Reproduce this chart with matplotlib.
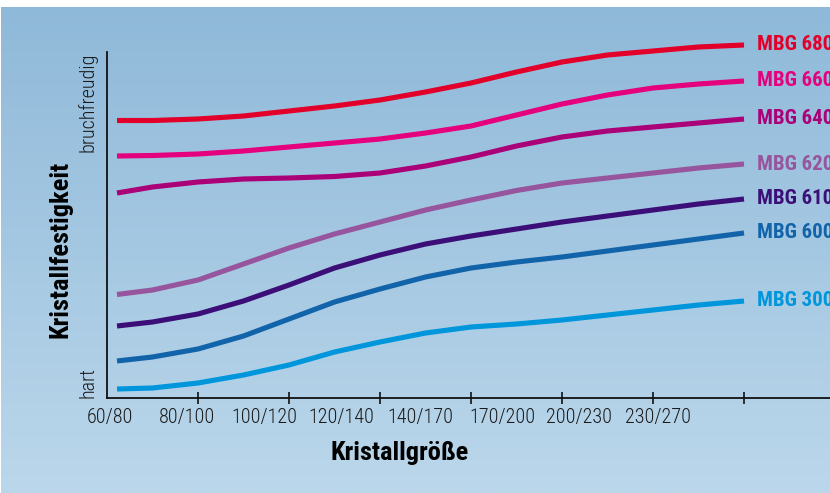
import numpy as np
import matplotlib.pyplot as plt
from matplotlib import font_manager

# x positions in tick units (tick k = k-th grid mark on the axis)
x_pos = [0.11, 0.5, 1.0, 1.5, 2.0, 2.5, 3.0, 3.5, 4.0, 4.5, 5.0, 5.5, 6.0, 6.5, 7.0]

# crystal strength (0 = hart, 346 = bruchfreudig)
mbg680 = [277.5, 277.5, 279, 282, 287, 292, 298, 306, 315, 326, 336, 343, 347, 351, 353]
mbg660 = [242, 242.5, 244, 247, 251, 255, 259, 265, 272, 283, 294, 303, 310, 314, 317]
mbg640 = [205, 211, 216, 219, 220, 221.5, 225, 232, 241, 252, 261, 267, 271, 275, 279]
mbg620 = [103.5, 108, 118, 134, 150, 164, 176, 188, 198, 207.5, 215, 220, 225, 230, 234]
mbg610 = [72, 76, 84, 97, 113, 130, 143, 154, 162, 169, 176, 182, 188, 194, 199]
mbg600 = [37, 41, 49, 62, 79, 96, 109, 121, 130, 136, 141, 147, 153, 159, 165]
mbg300 = [9, 10, 15, 23, 33, 46, 56, 65, 71, 74, 78, 83, 88, 93, 97]

series_names = ["MBG 680", "MBG 660", "MBG 640", "MBG 620", "MBG 610", "MBG 600", "MBG 300"]
series_vals = [mbg680, mbg660, mbg640, mbg620, mbg610, mbg600, mbg300]
series_colors = ["#e2002b", "#e5007d", "#aa0078", "#96559c", "#3c0f78", "#1264aa", "#0096dc"]

size_labels = ["60/80", "80/100", "100/120", "120/140", "140/170", "170/200", "200/230", "230/270"]
label_pos = [0.03, 0.88, 1.73, 2.58, 3.44, 4.34, 5.19, 6.05]
tick_pos = [1, 2, 3, 4, 5, 6, 7]

names = {f.name for f in font_manager.fontManager.ttflist}
FONT = "Liberation Sans"
for cand in ["Roboto Condensed", "Archivo Narrow", "PT Sans Narrow", "Liberation Sans Narrow",
             "Sofia Sans Condensed"]:
    if cand in names:
        FONT = cand
        break
plt.rcParams["font.family"] = [FONT, "DejaVu Sans"]

W, H = 830, 493
fig = plt.figure(figsize=(W / 100, H / 100), dpi=100)
fig.patch.set_facecolor("white")

# gradient background
bg = fig.add_axes([1 / W, 0, 1 - 1 / W, 1 - 7 / H])
top = np.array([0x8f, 0xb9, 0xd9]) / 255
bot = np.array([0xbb, 0xd7, 0xeb]) / 255
t = np.linspace(0, 1, 256)[:, None]
grad = top[None, :] * (1 - t) + bot[None, :] * t
bg.imshow(grad[:, None, :], aspect="auto", extent=[0, 1, 0, 1])
bg.axis("off")

ax = fig.add_axes([107 / W, 95 / H, 723 / W, 346 / H])
ax.patch.set_alpha(0)
ax.set_xlim(0, 723 / 91)
ax.set_ylim(0, 346)

for name, vals, col in zip(series_names, series_vals, series_colors):
    ax.plot(x_pos, vals, color=col, lw=3.7, solid_capstyle="butt", solid_joinstyle="round",
            clip_on=False)
    ax.annotate(name, (x_pos[-1], vals[-1]), xytext=(9, 0), textcoords="offset points",
                color=col, fontsize=15, fontweight="bold", va="center", ha="left",
                annotation_clip=False)

for s in ["top", "right"]:
    ax.spines[s].set_visible(False)
for s in ["left", "bottom"]:
    ax.spines[s].set_color("#111111")
    ax.spines[s].set_linewidth(1.3)

ax.set_xticks(tick_pos)
ax.set_xticklabels([])
ax.set_yticks([])
ax.tick_params(axis="x", direction="inout", length=8, width=1.2, color="#111111")

for lab, p in zip(size_labels, label_pos):
    ax.text(p, -10, lab, ha="center", va="top", fontsize=14.5, fontweight="light",
            color="#1a1a1a")

ax.text(-0.21, 0, "hart", rotation=90, ha="center", va="bottom", fontsize=14.5,
        fontweight="light", color="#1a1a1a")
ax.text(-0.21, 346, "bruchfreudig", rotation=90, ha="center", va="top", fontsize=14.5,
        fontweight="light", color="#1a1a1a")

fig.text(60 / W, 1 - 249 / H, "Kristallfestigkeit", rotation=90, ha="center", va="center",
         fontsize=19, fontweight="bold", color="black")
fig.text(400 / W, 1 - 453 / H, "Kristallgröße", ha="center", va="center",
         fontsize=19, fontweight="bold", color="black")

fig.savefig("out.png", dpi=100)
